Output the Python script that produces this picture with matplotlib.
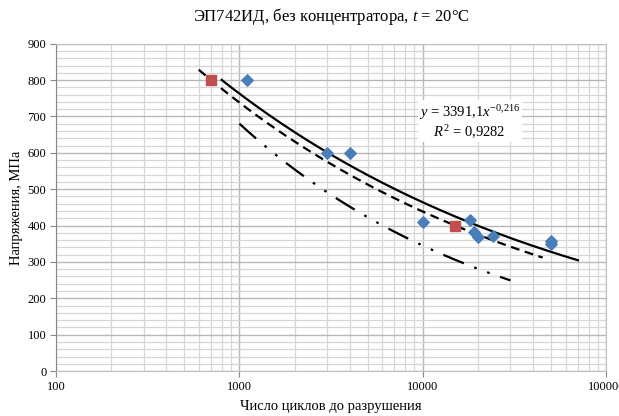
import numpy as np
import matplotlib.pyplot as plt
from matplotlib.ticker import FixedLocator, NullFormatter

# experimental points (cycles, stress MPa)
blue_n = [1100, 3000, 4000, 10000, 18000, 19000, 20000, 24000, 50000, 50000]
blue_s = [800, 600, 600, 410, 416, 382, 368, 370, 357, 348]
red_n = [700, 15000]
red_s = [800, 400]

# power fit y = 3391.1 x^-0.216
fit_a, fit_b = 3391.1, -0.216
fit_range = [800, 70000]
# dashed curve through the red points
dash_range = [600, 45000]
# dash-dot lower curve
dd_n0, dd_s0, dd_b = 1000, 680, -0.295
dd_range = [1000, 30000]

x_ticks = [100, 1000, 10000, 100000]
x_labels = ['100', '1000', '10000', '100000']
y_ticks = list(range(0, 901, 100))

plt.rcParams['font.family'] = ['Liberation Serif', 'DejaVu Serif']
plt.rcParams['mathtext.fontset'] = 'custom'
plt.rcParams['mathtext.rm'] = 'Liberation Serif'
plt.rcParams['mathtext.it'] = 'Liberation Serif:italic'

fig = plt.figure(figsize=(6.19, 4.16), dpi=100)
ax = fig.add_axes([0.0905, 0.108, 0.889, 0.787])

ax.set_xscale('log')
ax.set_xlim(100, 100000)
ax.set_ylim(0, 900)

# grid
minor_x = [m * 10 ** d for d in range(2, 5) for m in range(2, 10)]
ax.xaxis.set_minor_locator(FixedLocator(minor_x))
ax.xaxis.set_minor_formatter(NullFormatter())
ax.set_xticks(x_ticks)
ax.set_xticklabels(x_labels)
ax.set_yticks(y_ticks)
ax.yaxis.set_minor_locator(FixedLocator(list(range(0, 901, 20))))
ax.grid(which='major', color='#b8b8b8', lw=1.0)
ax.grid(which='minor', color='#d6d6d6', lw=0.9)
ax.set_axisbelow(True)

for s in ax.spines.values():
    s.set_color('#bfbfbf')
ax.spines['left'].set_color('#888888')
ax.tick_params(which='major', length=4, color='#888888', labelsize=9, pad=3)
ax.tick_params(which='minor', length=0)
ax.tick_params(axis='x', pad=3)

# curves
xf = np.logspace(np.log10(fit_range[0]), np.log10(fit_range[1]), 200)
ax.plot(xf, fit_a * xf ** fit_b, color='black', lw=1.6, zorder=3)

slope = np.log(red_s[1] / red_s[0]) / np.log(red_n[1] / red_n[0])
xd = np.logspace(np.log10(dash_range[0]), np.log10(dash_range[1]), 200)
ax.plot(xd, red_s[0] * (xd / red_n[0]) ** slope, color='black', lw=1.6,
        ls=(0, (4, 2.5)), zorder=3)

xdd = np.logspace(np.log10(dd_range[0]), np.log10(dd_range[1]), 200)
ax.plot(xdd, dd_s0 * (xdd / dd_n0) ** dd_b, color='black', lw=1.6,
        ls=(0, (10, 5, 1.2, 5, 1.2, 5)), zorder=3)

ax.scatter(blue_n, blue_s, marker='D', s=34, color='#4a7ebb', zorder=4)
ax.scatter(red_n, red_s, marker='s', s=45, color='#c0504d', zorder=4)

ax.text(18000, 685, '$y$ = 3391,1$x^{-0{,}216}$\n$R^{2}$ = 0,9282',
        ha='center', va='center', fontsize=10.5, linespacing=1.1,
        bbox=dict(facecolor='white', edgecolor='none', pad=1), zorder=5)

ax.set_title('ЭП742ИД, без концентратора, $t$ = 20°C', fontsize=12, pad=16)
ax.set_xlabel('Число циклов до разрушения', fontsize=10.5, labelpad=5)
ax.set_ylabel('Напряжения, МПа', fontsize=10.5, labelpad=3)

fig.savefig('out.png', dpi=100)
